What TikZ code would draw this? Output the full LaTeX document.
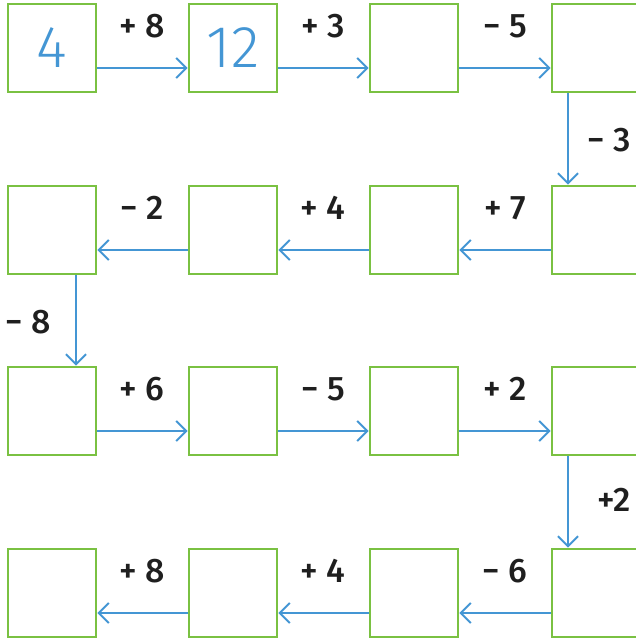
\documentclass[tikz,border=0pt]{standalone}
\usepackage{fontspec}
\setmainfont{Fira Sans Medium}
\newfontfamily\numfont{Fira Sans Light}
\usetikzlibrary{arrows.meta}
\definecolor{boxgreen}{RGB}{122,193,66}
\definecolor{arrowblue}{RGB}{68,150,212}

\begin{document}
\begin{tikzpicture}[x=1pt, y=-1pt,
	every node/.style={font=\fontsize{34}{34}\selectfont, text=black!88},
	box/.style={draw=boxgreen, line width=2.8pt, minimum size=88pt, inner sep=0pt,
		font=\numfont\fontsize{59}{59}\selectfont, text=arrowblue},
	link/.style={arrowblue, line width=2pt, -{Straight Barb[length=10pt, width=20pt]}}]
	\useasboundingbox (0,0) rectangle (636,638);
	% row 1
	\node[box] (b11) at (52,48) {4};
	\node[box] (b12) at (233,48) {12};
	\node[box] (b13) at (414,48) {};
	\node[box] (b14) at (596,48) {};
	% row 2
	\node[box] (b21) at (52,230) {};
	\node[box] (b22) at (233,230) {};
	\node[box] (b23) at (414,230) {};
	\node[box] (b24) at (596,230) {};
	% row 3
	\node[box] (b31) at (52,411) {};
	\node[box] (b32) at (233,411) {};
	\node[box] (b33) at (414,411) {};
	\node[box] (b34) at (596,411) {};
	% row 4
	\node[box] (b41) at (52,593) {};
	\node[box] (b42) at (233,593) {};
	\node[box] (b43) at (414,593) {};
	\node[box] (b44) at (596,593) {};
	% arrows
	\draw[link] ([yshift=-20pt]b11.east) -- ([yshift=-20pt]b12.west);
	\draw[link] ([yshift=-20pt]b12.east) -- ([yshift=-20pt]b13.west);
	\draw[link] ([yshift=-20pt]b13.east) -- ([yshift=-20pt]b14.west);
	\draw[link] ([xshift=-28pt]b14.south) -- ([xshift=-28pt]b24.north);
	\draw[link] ([yshift=-20pt]b24.west) -- ([yshift=-20pt]b23.east);
	\draw[link] ([yshift=-20pt]b23.west) -- ([yshift=-20pt]b22.east);
	\draw[link] ([yshift=-20pt]b22.west) -- ([yshift=-20pt]b21.east);
	\draw[link] ([xshift=24pt]b21.south) -- ([xshift=24pt]b31.north);
	\draw[link] ([yshift=-20pt]b31.east) -- ([yshift=-20pt]b32.west);
	\draw[link] ([yshift=-20pt]b32.east) -- ([yshift=-20pt]b33.west);
	\draw[link] ([yshift=-20pt]b33.east) -- ([yshift=-20pt]b34.west);
	\draw[link] ([xshift=-28pt]b34.south) -- ([xshift=-28pt]b44.north);
	\draw[link] ([yshift=-20pt]b44.west) -- ([yshift=-20pt]b43.east);
	\draw[link] ([yshift=-20pt]b43.west) -- ([yshift=-20pt]b42.east);
	\draw[link] ([yshift=-20pt]b42.west) -- ([yshift=-20pt]b41.east);
	% labels
	\node (l1) at (142,26) {+ 8};
	\node (l2) at (323,26) {+ 3};
	\node (l3) at (505,26) {− 5};
	\node[anchor=west] (l4) at (584,140) {− 3};
	\node (l5) at (142,208) {− 2};
	\node (l6) at (323,208) {+ 4};
	\node (l7) at (505,208) {+ 7};
	\node[anchor=west] (l8) at (2,322) {− 8};
	\node (l9) at (142,389) {+ 6};
	\node (l10) at (323,389) {− 5};
	\node (l11) at (505,389) {+ 2};
	\node[anchor=west] (l12) at (594,500) {+2};
	\node (l13) at (142,571) {+ 8};
	\node (l14) at (323,571) {+ 4};
	\node (l15) at (505,571) {− 6};
\end{tikzpicture}
\end{document}
